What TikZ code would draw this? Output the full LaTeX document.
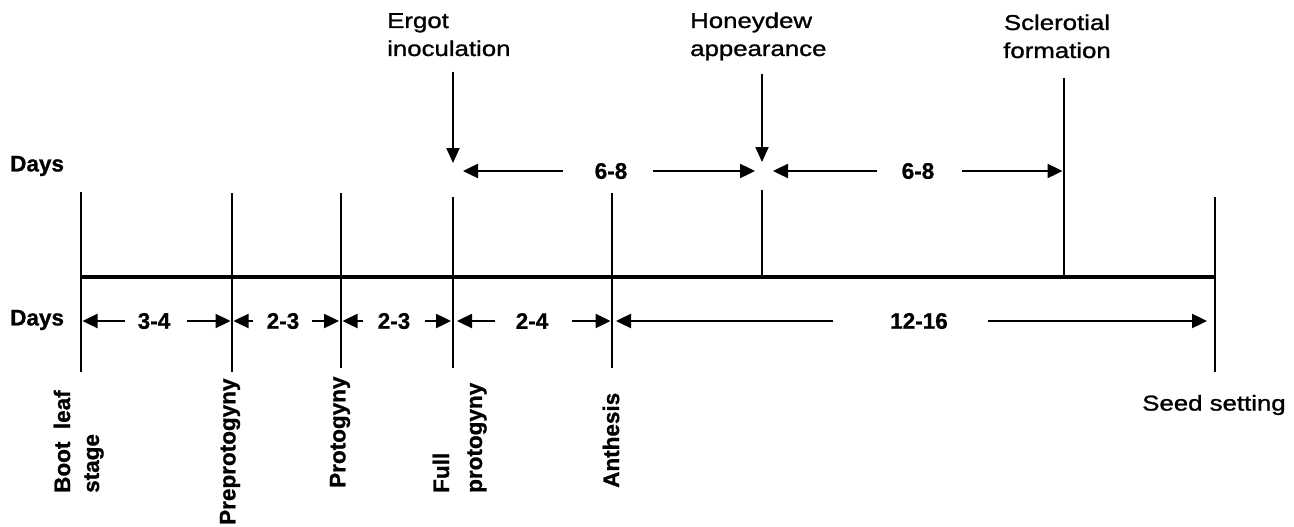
\documentclass[tikz,border=0pt]{standalone}
\usepackage{fontspec}
\setmainfont{Liberation Sans}[BoldFeatures={FakeBold=1}]
\newfontfamily\labfont{Liberation Sans}[FakeStretch=1.2,FakeBold=1.2]
\usetikzlibrary{arrows.meta}
\begin{document}
\begin{tikzpicture}[x=1pt,y=-1pt,
  tickline/.style={line width=2.7pt},
  axisline/.style={line width=4pt},
  dimarrow/.style={line width=2.4pt,-{Triangle[length=15pt,width=14pt]}},
  downarrow/.style={line width=2pt,-{Triangle[length=15pt,width=13pt]}},
  boldtxt/.style={font=\fontsize{22.5}{27}\selectfont\bfseries, inner sep=0pt},
  numtxt/.style={boldtxt},
  toptxt/.style={font=\labfont\fontsize{21.5}{27}\selectfont, inner sep=0pt},
  vlab/.style={boldtxt, rotate=90, anchor=west},
]
\useasboundingbox (0,0) rectangle (1294,527);

% tick ends
\coordinate (t1a) at (81,192);   \coordinate (t1b) at (81,372);
\coordinate (t2a) at (232,193);  \coordinate (t2b) at (232,372);
\coordinate (t3a) at (341,193);  \coordinate (t3b) at (341,368);
\coordinate (t4a) at (453,197);  \coordinate (t4b) at (453,368);
\coordinate (t5a) at (612,193);  \coordinate (t5b) at (612,368);
\coordinate (t6a) at (762,190);  \coordinate (t6b) at (762,277);
\coordinate (t7a) at (1064,78);  \coordinate (t7b) at (1064,277);
\coordinate (t8a) at (1215,197); \coordinate (t8b) at (1215,372);
\coordinate (axL) at (81,277);   \coordinate (axR) at (1215,277);

\draw[axisline] (axL) -- (axR);
\foreach \i in {1,...,8} {\draw[tickline] (t\i a) -- (t\i b);}

% lower row points
\coordinate (b1) at (81,321);  \coordinate (b2) at (232,321);
\coordinate (b3) at (341,321); \coordinate (b4) at (453,321);
\coordinate (b5) at (612,321); \coordinate (b8) at (1215,321);
% upper row points
\coordinate (u4) at (453,171); \coordinate (u6) at (762,171);
\coordinate (u7) at (1064,171);

% Days labels
\node[boldtxt, anchor=west] (daysU) at (10,166) {Days};
\node[boldtxt, anchor=west] (daysL) at (10,320) {Days};

% lower dimension labels
\node[numtxt] (n34) at (154,321) {3-4};
\node[numtxt] (n23a) at (283,321) {2-3};
\node[numtxt] (n23b) at (394,321) {2-3};
\node[numtxt] (n24) at (532,321) {2-4};
\node[numtxt] (n1216) at (919,321) {12-16};

\draw[dimarrow, shorten <=12.7pt, shorten >=1.5pt] (n34.west) -- (b1);
\draw[dimarrow, shorten <=16.7pt, shorten >=1.5pt] (n34.east) -- (b2);
\draw[dimarrow, shorten <=13.7pt, shorten >=1.5pt] (n23a.west) -- (b2);
\draw[dimarrow, shorten <=12.7pt, shorten >=2pt] (n23a.east) -- (b3);
\draw[dimarrow, shorten <=14.7pt, shorten >=1.5pt] (n23b.west) -- (b3);
\draw[dimarrow, shorten <=14.7pt, shorten >=2pt] (n23b.east) -- (b4);
\draw[dimarrow, shorten <=20.7pt, shorten >=4pt] (n24.west) -- (b4);
\draw[dimarrow, shorten <=23.7pt, shorten >=1.5pt] (n24.east) -- (b5);
\draw[dimarrow, shorten <=57pt, shorten >=4pt] (n1216.west) -- (b5);
\draw[dimarrow, shorten <=40pt, shorten >=8pt] (n1216.east) -- (b8);

% upper dimension labels
\node[numtxt] (n68a) at (611,171) {6-8};
\node[numtxt] (n68b) at (918,171) {6-8};
\draw[dimarrow, shorten <=31.7pt, shorten >=10pt] (n68a.west) -- (u4);
\draw[dimarrow, shorten <=25.7pt, shorten >=7pt] (n68a.east) -- (u6);
\draw[dimarrow, shorten <=24.7pt, shorten >=11pt] (n68b.west) -- (u6);
\draw[dimarrow, shorten <=27.7pt, shorten >=1.5pt] (n68b.east) -- (u7);

% top labels
\node[toptxt, anchor=base west] (ergot1) at (387,28) {Ergot};
\node[toptxt, anchor=base west] (ergot2) at (387,56) {inoculation};
\node[toptxt, anchor=base west] (honey1) at (690,28) {Honeydew};
\node[toptxt, anchor=base west] (honey2) at (690,56) {appearance};
\node[toptxt, anchor=base] (scler1) at (1057,30) {Sclerotial};
\node[toptxt, anchor=base] (scler2) at (1057,58) {formation};

\coordinate (ea) at (453,72);  \coordinate (eb) at (453,163);
\coordinate (ha) at (762,74);  \coordinate (hb) at (762,162);
\draw[downarrow] (ea) -- (eb);
\draw[downarrow] (ha) -- (hb);

% bottom rotated labels
\node[vlab] (boot) at (62,493) {Boot\ \ leaf};
\node[vlab] (stage) at (94,493) {stage};
\node[vlab] (prep) at (230,525) {Preprotogyny};
\node[vlab] (prot) at (340,488) {Protogyny};
\node[vlab] (full) at (441,493) {Full};
\node[vlab] (fprot) at (477,493) {protogyny};
\node[vlab] (anth) at (611,488) {Anthesis};

\node[toptxt, anchor=center] (seed) at (1214,405) {Seed setting};
\end{tikzpicture}
\end{document}
